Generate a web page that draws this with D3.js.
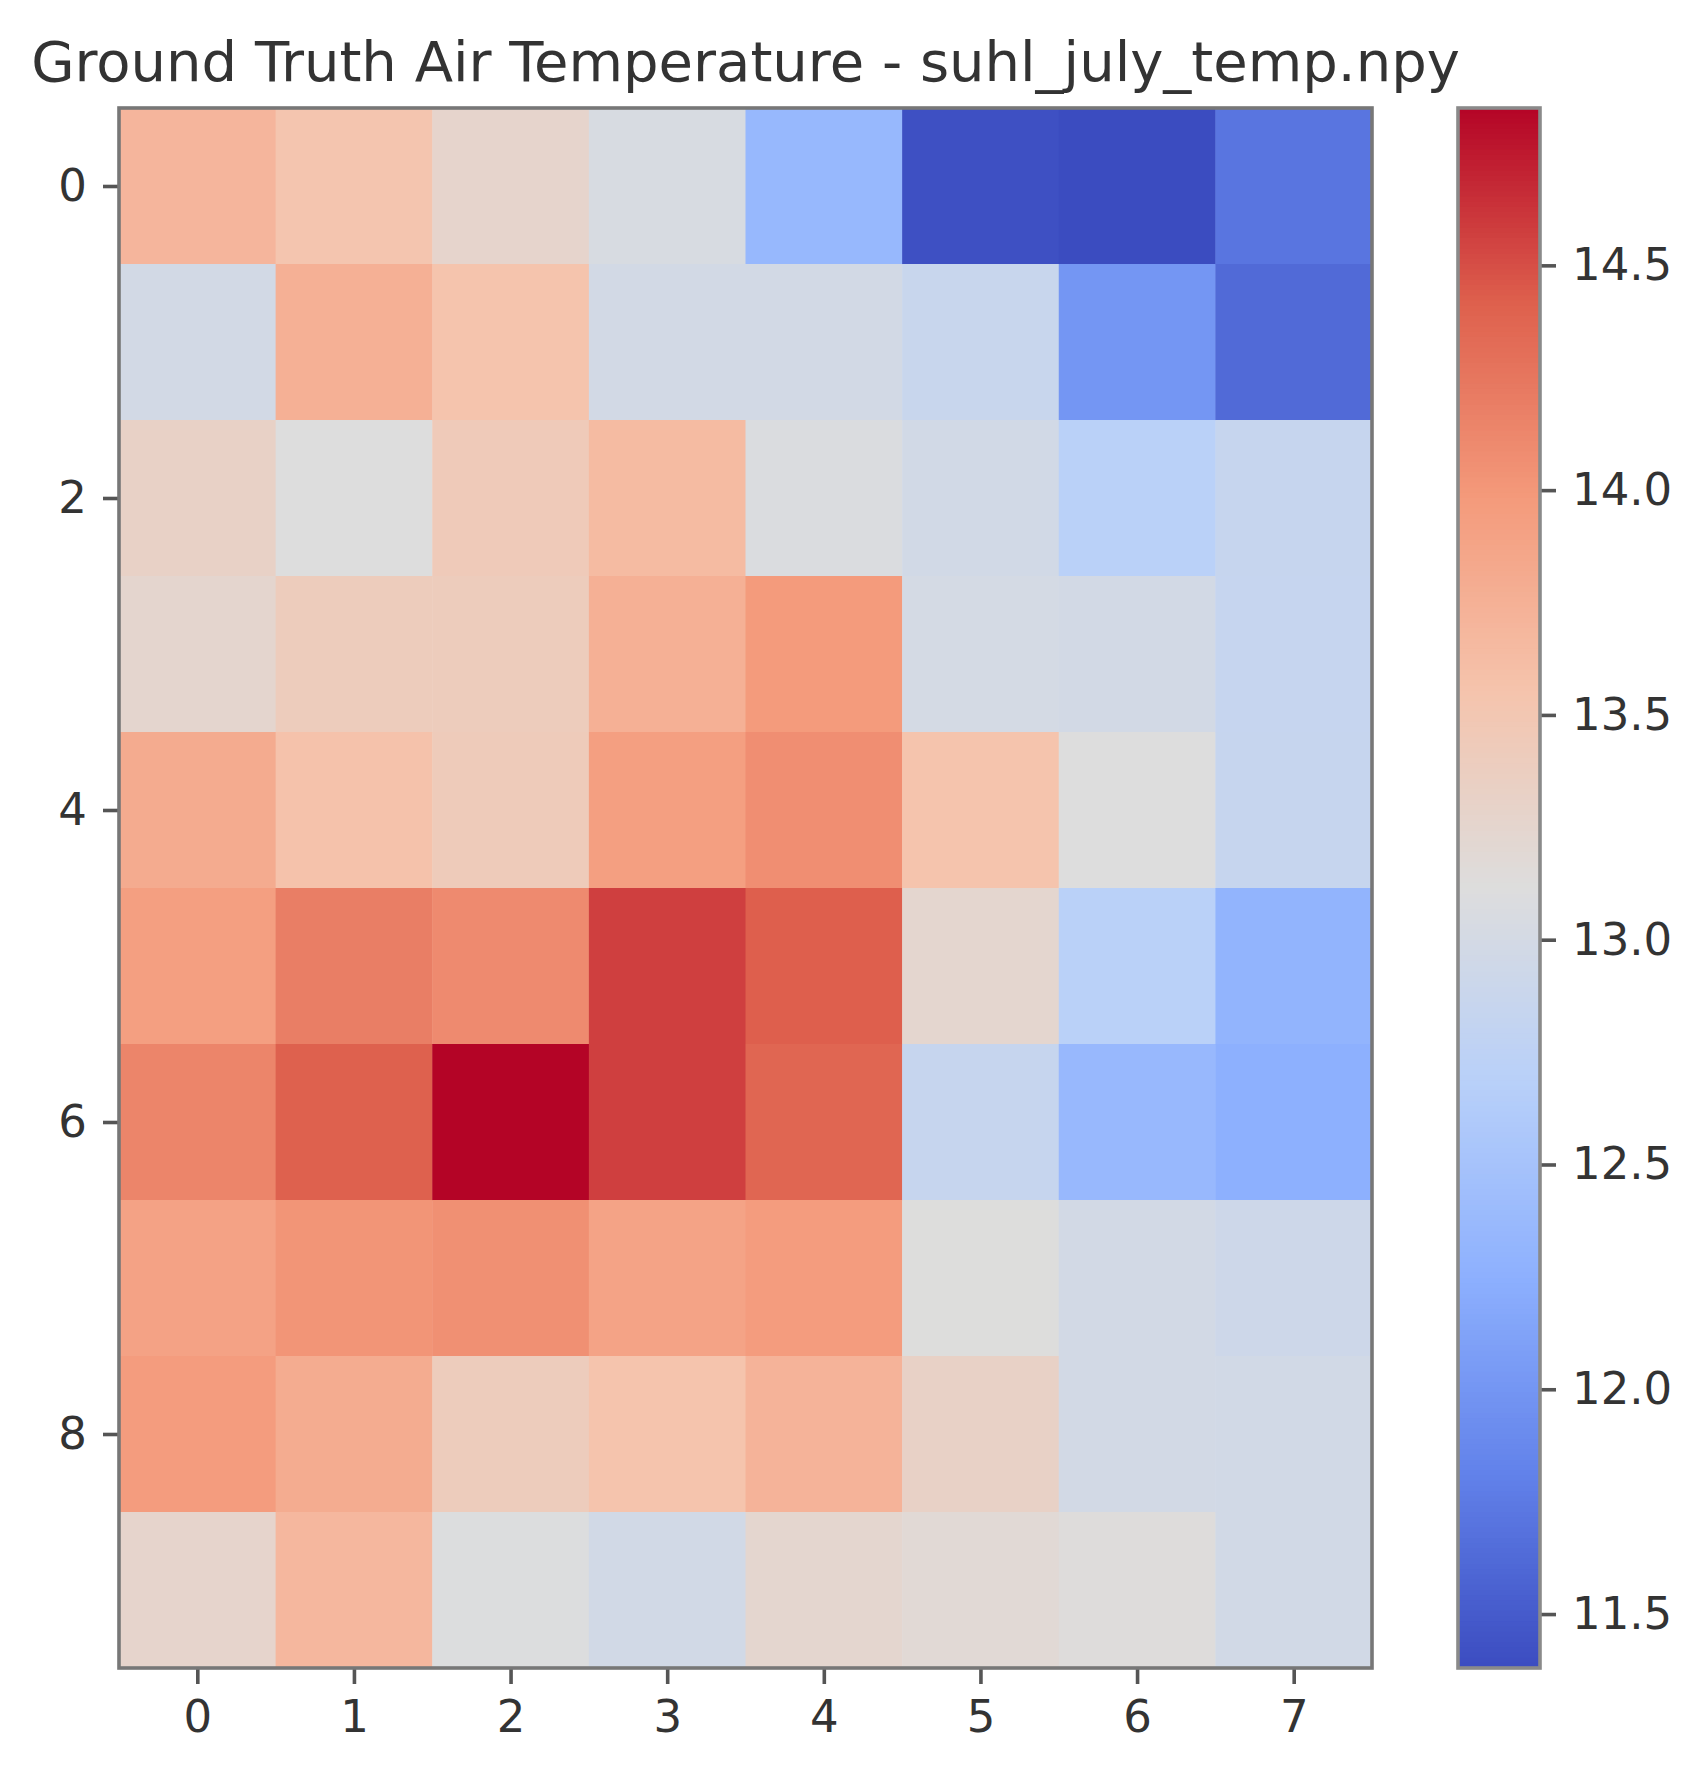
<!DOCTYPE html>
<html>
<head>
<meta charset="utf-8">
<title>suhl_july_temp</title>
<style>
  body { margin: 0; background: #fff; }
  text { font-family: "DejaVu Sans", sans-serif; fill: #333; }
</style>
</head>
<body>
<svg width="1699" height="1782"></svg>
<script src="https://cdn.jsdelivr.net/npm/d3@7"></script>
<script>

// grid values, row 0 at top
var rows = d3.range(10)
var cols = d3.range(8)
var temps = [
  [13.70, 13.53, 13.27, 13.05, 12.35, 11.41, 11.38, 11.71],
  [12.99, 13.76, 13.55, 12.99, 12.99, 12.87, 12.00, 11.62],
  [13.32, 13.11, 13.44, 13.64, 13.08, 12.98, 12.70, 12.85],
  [13.25, 13.41, 13.41, 13.76, 13.97, 13.01, 12.99, 12.84],
  [13.81, 13.57, 13.43, 13.93, 14.07, 13.55, 13.11, 12.85],
  [13.93, 14.19, 14.10, 14.57, 14.42, 13.24, 12.70, 12.30],
  [14.14, 14.41, 14.85, 14.57, 14.37, 12.85, 12.36, 12.25],
  [13.90, 14.02, 14.06, 13.89, 13.96, 13.12, 12.99, 12.93],
  [13.96, 13.80, 13.41, 13.55, 13.72, 13.32, 12.99, 12.97],
  [13.27, 13.68, 13.10, 12.98, 13.24, 13.19, 13.13, 12.97]
]
var yTicks = [0, 2, 4, 6, 8]
var cbTicks = [11.5, 12.0, 12.5, 13.0, 13.5, 14.0, 14.5]
var title = 'Ground Truth Air Temperature - suhl_july_temp.npy'

// matplotlib coolwarm stops
var coolwarm = d3.piecewise(d3.interpolateRgb, [
  '#3b4cc0', '#6282ea', '#8db0fe', '#b8d0f9', '#dddddd',
  '#f5c4ad', '#f49a7b', '#de604d', '#b40426'
])

var svg = d3.select('svg')
var axL = 119, axR = 1372, axT = 108, axB = 1668
var cbL = 1458, cbR = 1540

var all = d3.merge(temps)
var ext = d3.extent(all)
var color = d3.scaleSequential(coolwarm).domain(ext)

var x = d3.scaleBand().domain(cols).range([axL, axR])
var y = d3.scaleBand().domain(rows).range([axT, axB])

// cells
var cells = []
temps.forEach(function(r, i){
  r.forEach(function(v, j){ cells.push({row: i, col: j, v: v}) })
})
svg.append('g').selectAll('rect')
  .data(cells)
  .enter().append('rect')
  .attr('x', function(d){ return x(d.col) })
  .attr('y', function(d){ return y(d.row) })
  .attr('width', x.bandwidth() + 0.5)
  .attr('height', y.bandwidth() + 0.5)
  .attr('fill', function(d){ return color(d.v) })

// axes
var fs = 45
var xAxis = d3.axisBottom(d3.scalePoint().domain(cols).range([axL + x.bandwidth() / 2, axR - x.bandwidth() / 2]))
  .tickSize(16).tickPadding(16)
var yAxis = d3.axisLeft(d3.scalePoint().domain(rows).range([axT + y.bandwidth() / 2, axB - y.bandwidth() / 2]))
  .tickValues(yTicks).tickSize(16).tickPadding(16)

var gx = svg.append('g').attr('transform', 'translate(0,' + axB + ')').call(xAxis)
var gy = svg.append('g').attr('transform', 'translate(' + axL + ',0)').call(yAxis)
;[gx, gy].forEach(function(g){
  g.select('.domain').remove()
  g.selectAll('line').attr('stroke', '#555').attr('stroke-width', 3.6)
  g.selectAll('text').style('font-size', fs + 'px').attr('fill', '#333')
})

svg.append('rect')
  .attr('x', axL).attr('y', axT)
  .attr('width', axR - axL).attr('height', axB - axT)
  .attr('fill', 'none').attr('stroke', '#777').attr('stroke-width', 3.6)

// colorbar
var cb = d3.scaleLinear().domain(ext).range([axB, axT])
var steps = d3.range(0, 300)
svg.append('g').selectAll('rect')
  .data(steps)
  .enter().append('rect')
  .attr('x', cbL)
  .attr('width', cbR - cbL)
  .attr('y', function(d){ return axT + (axB - axT) * d / steps.length })
  .attr('height', (axB - axT) / steps.length + 1)
  .attr('fill', function(d){ return color(cb.invert(axT + (axB - axT) * (d + 0.5) / steps.length)) })

var gc = svg.append('g').attr('transform', 'translate(' + cbR + ',0)')
  .call(d3.axisRight(cb).tickValues(cbTicks).tickFormat(d3.format('.1f')).tickSize(16).tickPadding(16))
gc.select('.domain').remove()
gc.selectAll('line').attr('stroke', '#555').attr('stroke-width', 3.6)
gc.selectAll('text').style('font-size', fs + 'px').attr('fill', '#333')

svg.append('rect')
  .attr('x', cbL).attr('y', axT)
  .attr('width', cbR - cbL).attr('height', axB - axT)
  .attr('fill', 'none').attr('stroke', '#8a8a8a').attr('stroke-width', 3.6)

// title
svg.append('text')
  .attr('x', (axL + axR) / 2)
  .attr('y', axT - 27)
  .attr('text-anchor', 'middle')
  .style('font-size', '56px')
  .text(title)

</script>
</body>
</html>
